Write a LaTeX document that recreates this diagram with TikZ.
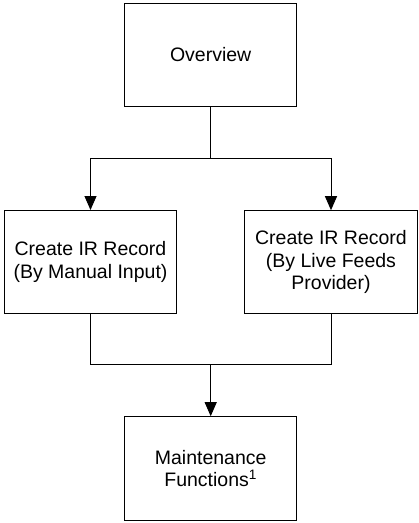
\documentclass[tikz,border=0pt]{standalone}
\usepackage{fontspec}
\setmainfont{Liberation Sans}
\usetikzlibrary{arrows.meta}
\begin{document}
\begin{tikzpicture}[x=1pt,y=-1pt,
  box/.style={draw,line width=1pt,align=center,inner sep=0pt,
    font=\fontsize{19.5}{22.5}\selectfont},
  conn/.style={line width=1pt},
  arr/.style={conn,-{Triangle[length=14pt,width=12pt]}}]
\useasboundingbox (0,0) rectangle (419,523);
\node[box,minimum width=171.5pt,minimum height=103pt] (ov) at (210.7,55) {Overview};
\node[box,minimum width=172pt,minimum height=102.6pt] (L) at (90.5,261.8) {Create IR Record\\(By Manual Input)};
\node[box,minimum width=172.3pt,minimum height=102.6pt] (R) at (331,262) {Create IR Record\\(By Live Feeds\\Provider)};
\node[box,minimum width=171.7pt,minimum height=104pt] (B) at (210.7,468.7) {Maintenance\\Functions\textsuperscript{1}};
\coordinate (split) at (210.7,158);
\coordinate (join) at (210.7,364.3);
\draw[conn] (ov.south) -- (split);
\draw[arr] (split) -| (L.north);
\draw[arr] (split) -| (R.north);
\draw[conn] (L.south) |- (join);
\draw[conn] (R.south) |- (join);
\draw[arr] (join) -- (B.north);
\end{tikzpicture}
\end{document}
